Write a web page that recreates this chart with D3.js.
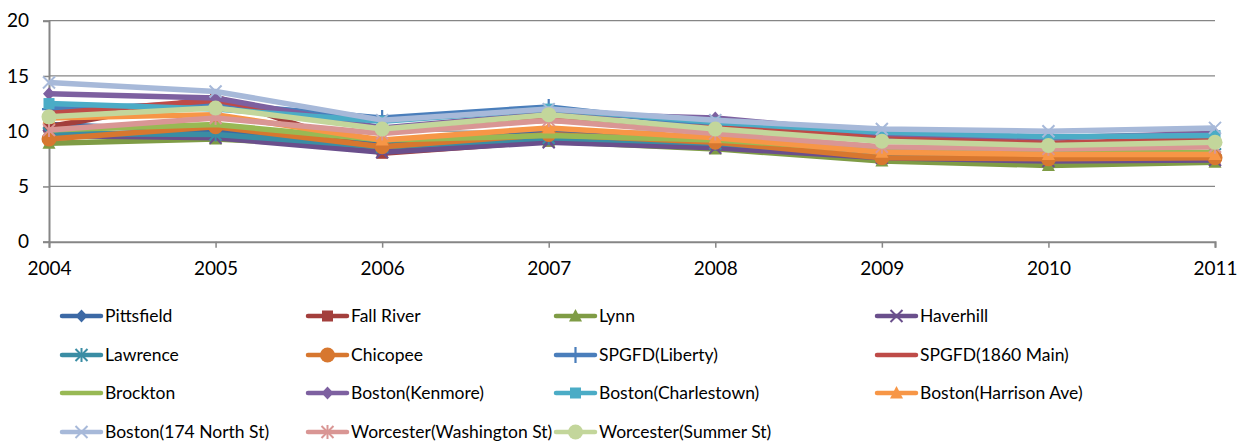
<!DOCTYPE html>
<html>
<head>
<meta charset="utf-8">
<script src="https://cdn.jsdelivr.net/npm/d3@7"></script>
<style>
  body { margin: 0; background: #fff; }
  svg { display: block; font-family: Lato, "Open Sans", sans-serif; }
</style>
</head>
<body>
<div id="chart"></div>
<script>
(() => {
    const years = ["2004", "2005", "2006", "2007", "2008", "2009", "2010", "2011"];
    const yTicks = [0, 5, 10, 15, 20];

    const seriesNames = [
        "Pittsfield", "Fall River", "Lynn", "Haverhill", "Lawrence", "Chicopee",
        "SPGFD(Liberty)", "SPGFD(1860 Main)", "Brockton", "Boston(Kenmore)",
        "Boston(Charlestown)", "Boston(Harrison Ave)", "Boston(174 North St)",
        "Worcester(Washington St)", "Worcester(Summer St)"
    ];
    const seriesColors = [
        "#3c69a5", "#a33f3c", "#7f9c45", "#6a4f8c", "#3a8da4", "#d7772f",
        "#4a7ebb", "#be4b48", "#98b954", "#7d60a0", "#4bacc6", "#f79646",
        "#a7b9d9", "#d99694", "#c3d69b"
    ];
    const seriesMarkers = [
        "diamond", "square", "triangle", "x", "star", "circle",
        "plus", "none", "none", "diamond", "square", "triangle",
        "x", "star", "circle"
    ];

    // values, one array per site
    const pittsfield      = [10.6, 10.0, 8.9, 10.1, 9.0, 8.1, 7.9, 8.0];
    const fallRiver       = [10.4, 13.1, 8.0, 9.1, 8.7, 7.6, 7.3, 7.5];
    const lynn            = [8.9, 9.3, 8.5, 9.1, 8.4, 7.3, 6.9, 7.2];
    const haverhill       = [9.6, 9.4, 8.1, 9.0, 8.5, 7.6, 7.3, 7.4];
    const lawrence        = [9.8, 9.7, 8.6, 9.4, 8.9, 7.9, 7.7, 7.9];
    const chicopee        = [9.3, 10.4, 8.6, 9.7, 9.0, 7.6, 7.5, 7.6];
    const spgfdLiberty    = [12.0, 12.5, 11.2, 12.2, 10.5, 9.5, 8.9, 9.0];
    const spgfdMain       = [11.6, 12.8, 10.2, 11.0, 10.3, 9.6, 8.9, 9.3];
    const brockton        = [10.1, 10.6, 9.2, 9.6, 9.2, 8.3, 8.1, 8.1];
    const bostonKenmore   = [13.4, 13.0, 10.3, 11.6, 11.2, 9.8, 9.4, 9.8];
    const bostonCharles   = [12.5, 12.0, 10.9, 12.0, 10.8, 9.9, 9.5, 9.6];
    const bostonHarrison  = [11.2, 11.5, 9.2, 10.3, 9.4, 8.1, 7.9, 7.9];
    const bostonNorth     = [14.4, 13.6, 11.0, 12.0, 11.0, 10.2, 10.0, 10.3];
    const worcesterWash   = [10.1, 11.2, 9.8, 11.0, 9.8, 8.6, 8.4, 8.6];
    const worcesterSummer = [11.3, 12.1, 10.2, 11.5, 10.2, 9.1, 8.7, 9.0];

    const seriesValues = [
        pittsfield, fallRiver, lynn, haverhill, lawrence, chicopee,
        spgfdLiberty, spgfdMain, brockton, bostonKenmore, bostonCharles,
        bostonHarrison, bostonNorth, worcesterWash, worcesterSummer
    ];

    const W = 1247, H = 442;
    const svg = d3.select("#chart").append("svg")
        .attr("width", W)
        .attr("height", H);

    const x = d3.scalePoint().domain(years).range([49, 1215]);
    const y = d3.scaleLinear().domain([0, 20]).range([241.7, 20.7]);

    const axisColor = "#868686";

    // gridlines
    svg.append("g")
        .selectAll("line")
        .data(yTicks.filter(d => d > 0))
        .enter()
        .append("line")
        .attr("x1", x.range()[0])
        .attr("x2", x.range()[1])
        .attr("y1", d => y(d))
        .attr("y2", d => y(d))
        .attr("stroke", axisColor)
        .attr("stroke-width", 1.3);

    // y axis
    const yAxis = svg.append("g")
        .attr("transform", `translate(${x.range()[0]},0)`)
        .call(d3.axisLeft(y).tickValues(yTicks).tickSize(6).tickPadding(14));
    // x axis
    const xAxis = svg.append("g")
        .attr("transform", `translate(0,${y(0)})`)
        .call(d3.axisBottom(x).tickSize(6).tickPadding(14));

    [yAxis, xAxis].forEach(a => {
        a.select(".domain").attr("stroke", axisColor).attr("stroke-width", 2);
        a.selectAll(".tick line").attr("stroke", axisColor).attr("stroke-width", 1.5);
        a.selectAll(".tick text")
            .attr("fill", "#000")
            .style("font-size", "19px")
            .style("font-family", "Lato, sans-serif");
    });

    function drawMarker(g, type, color) {
        if (type === "diamond") {
            g.append("path").attr("d", "M0,-6.5L6,0L0,6.5L-6,0Z").attr("fill", color);
        } else if (type === "square") {
            g.append("rect").attr("x", -5.5).attr("y", -5.5).attr("width", 11).attr("height", 11).attr("fill", color);
        } else if (type === "triangle") {
            g.append("path").attr("d", "M0,-7L6.5,5.5L-6.5,5.5Z").attr("fill", color);
        } else if (type === "circle") {
            g.append("circle").attr("r", 7.5).attr("fill", color);
        } else if (type === "x" || type === "star") {
            g.append("path").attr("d", "M-6,-6L6,6M-6,6L6,-6")
                .attr("stroke", color).attr("stroke-width", 2).attr("fill", "none");
            if (type === "star") {
                g.append("path").attr("d", "M0,-7L0,7")
                    .attr("stroke", color).attr("stroke-width", 2);
            }
        } else if (type === "plus") {
            g.append("path").attr("d", "M0,-8L0,8M-7,0L7,0")
                .attr("stroke", color).attr("stroke-width", 2.2).attr("fill", "none");
        }
    }

    const line = d3.line()
        .x((d, i) => x(years[i]))
        .y(d => y(d));

    seriesValues.forEach((vals, s) => {
        const g = svg.append("g").attr("class", "series");
        g.append("path")
            .datum(vals)
            .attr("d", line)
            .attr("fill", "none")
            .attr("stroke", seriesColors[s])
            .attr("stroke-width", 5.5)
            .attr("stroke-linejoin", "round");
        vals.forEach((v, i) => {
            const m = g.append("g").attr("transform", `translate(${x(years[i])},${y(v)})`);
            drawMarker(m, seriesMarkers[s], seriesColors[s]);
        });
    });

    // legend, 4 columns x 4 rows
    const legendCols = [62, 308, 556, 877];
    const legendRows = [316, 355, 393, 432];
    const legend = svg.append("g");
    seriesNames.forEach((name, s) => {
        const cx = legendCols[s % 4];
        const cy = legendRows[Math.floor(s / 4)];
        const item = legend.append("g").attr("transform", `translate(${cx},${cy})`);
        item.append("line")
            .attr("x1", 0).attr("x2", 39)
            .attr("stroke", seriesColors[s])
            .attr("stroke-width", 4.5)
            .attr("stroke-linecap", "round");
        drawMarker(item.append("g").attr("transform", "translate(19.5,0)"), seriesMarkers[s], seriesColors[s]);
        item.append("text")
            .attr("x", 43)
            .attr("dy", "0.35em")
            .style("font-size", "17.5px")
            .text(name);
    });
})();
</script>
</body>
</html>
